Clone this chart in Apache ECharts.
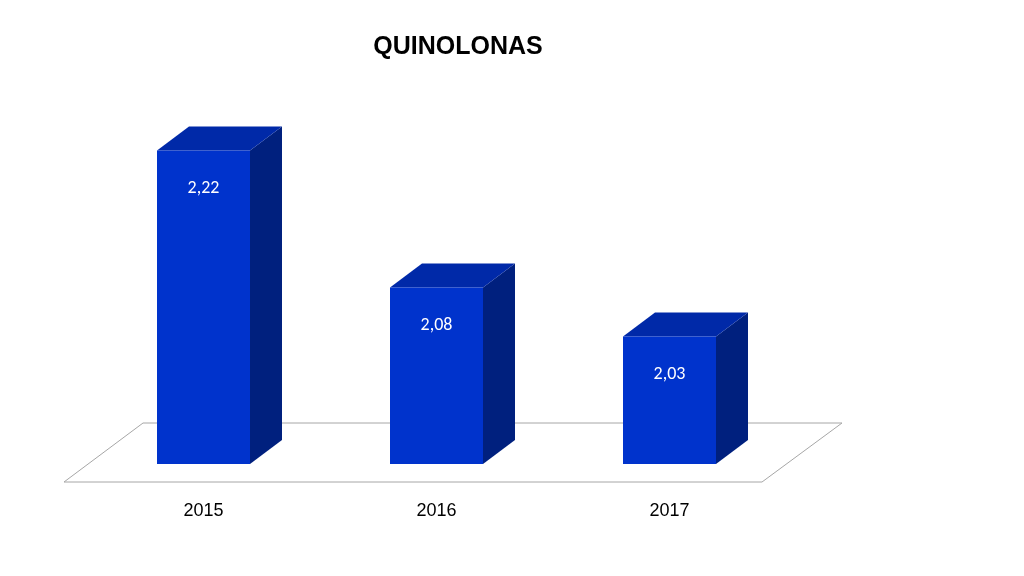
<!DOCTYPE html>
<html>
<head>
<meta charset="utf-8">
<script src="https://cdn.jsdelivr.net/npm/echarts@6/dist/echarts.min.js"></script>
<style>html,body{margin:0;background:#fff}#chart{width:1024px;height:576px}</style>
</head>
<body>
<div id="chart"></div>
<script>
var categories = ['2015', '2016', '2017'];
var values = [2.22, 2.08, 2.03];
var labels = ['2,22', '2,08', '2,03'];

var chart = echarts.init(document.getElementById('chart'));
var depthX = 32, depthY = 24;

function renderBar(params, api) {
    var i = api.value(0);
    var top = api.coord([i, api.value(1)]);
    var base = api.coord([i, 1.9]);
    var w = 93, x0 = top[0] - w / 2, x1 = top[0] + w / 2;
    var yt = top[1], yb = base[1];
    return {
        type: 'group',
        children: [
            {type: 'polygon', shape: {points: [[x1, yt], [x1 + depthX, yt - depthY], [x1 + depthX, yb - depthY], [x1, yb]]},
             style: {fill: '#00207e'}},
            {type: 'polygon', shape: {points: [[x0, yt], [x0 + depthX, yt - depthY], [x1 + depthX, yt - depthY], [x1, yt]]},
             style: {fill: '#0029a8'}},
            {type: 'rect', shape: {x: x0, y: yt, width: w, height: yb - yt}, style: {fill: '#0033cc'}},
            {type: 'text', style: {text: labels[i], x: top[0], y: yt + 38, fill: '#fff', fontSize: 18,
             fontFamily: 'Carlito, "Liberation Sans", sans-serif', align: 'center', verticalAlign: 'middle'}}
        ]
    };
}

chart.setOption({
    animation: false,
    title: {text: 'QUINOLONAS', left: 453, top: 30, textAlign: 'center',
        textStyle: {fontSize: 25, fontWeight: 'bold', color: '#000', fontFamily: '"Liberation Sans Narrow", "Liberation Sans", sans-serif'}},
    graphic: [{type: 'polygon', z: 0, shape: {points: [[64, 482], [762, 482], [842, 423], [143, 423]]},
        style: {fill: '#fff', stroke: '#a6a6a6', lineWidth: 1}}],
    grid: {left: 87, right: 238, top: 72, bottom: 112},
    xAxis: {type: 'category', data: categories, axisLine: {show: false}, axisTick: {show: false},
        axisLabel: {margin: 38, fontSize: 18, color: '#000', fontFamily: '"Liberation Sans", sans-serif'}},
    yAxis: {type: 'value', min: 1.9, max: 2.3, show: false, splitLine: {show: false}},
    series: [{type: 'custom', z: 5, renderItem: renderBar,
        data: values.map(function (v, i) { return [i, v]; })}]
});
</script>
</body>
</html>
